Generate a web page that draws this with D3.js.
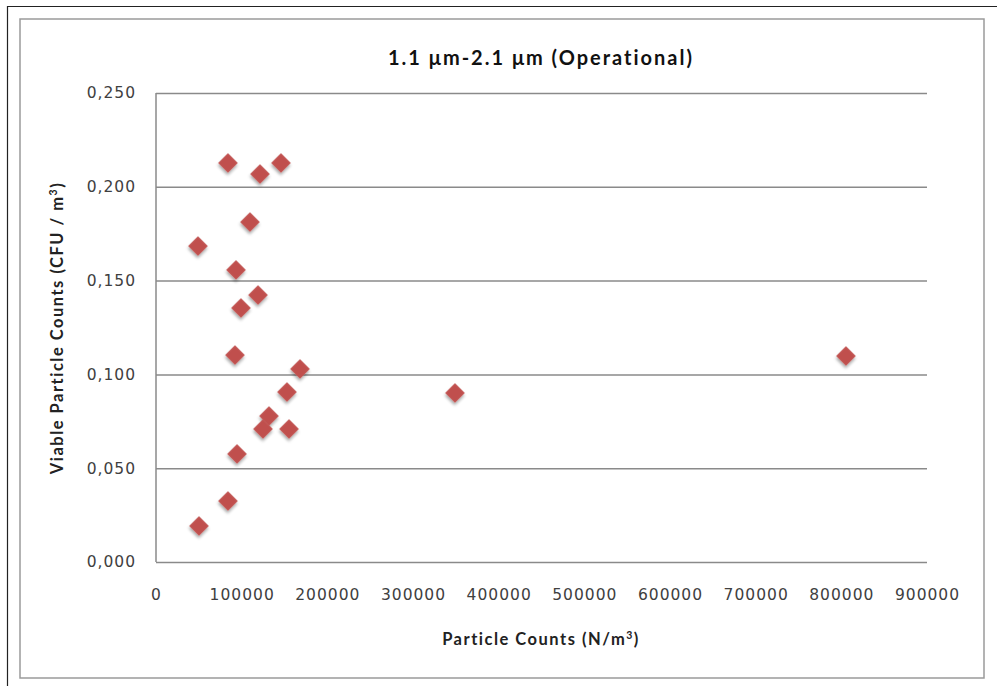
<!DOCTYPE html>
<html>
<head>
<meta charset="utf-8">
<script src="https://cdn.jsdelivr.net/npm/d3@7"></script>
<style>
  html, body { margin: 0; padding: 0; background: #fff; }
  svg { display: block; }
</style>
</head>
<body>
<svg id="chart" width="997" height="686"></svg>
<script>
// Particle counts (N/m³) and matching viable counts (CFU/m³)
const particleCounts = [84000, 121400, 145900, 109700, 49000, 93400, 119100, 99200,
  92200, 168100, 152900, 131900, 124900, 155300, 94600, 84000, 50200, 349000, 805400];
const viableCounts = [0.2127, 0.2068, 0.2127, 0.1812, 0.1684, 0.1557, 0.1423, 0.1354,
  0.1103, 0.1029, 0.0906, 0.0778, 0.0709, 0.0709, 0.0576, 0.0325, 0.0192, 0.0901, 0.1098];
const xTicks = [0, 100000, 200000, 300000, 400000, 500000, 600000, 700000, 800000, 900000];
const yTicks = [0, 0.05, 0.10, 0.15, 0.20, 0.25];
const chartTitle = "1.1 μm-2.1  μm (Operational)";

const svg = d3.select("#chart");
const plot = { left: 156, right: 927, top: 93, bottom: 562 };

const x = d3.scaleLinear().domain([0, 900000]).range([plot.left, plot.right]);
const y = d3.scaleLinear().domain([0, 0.25]).range([plot.bottom, plot.top]);

// outer frame (top and left edges)
svg.append("path")
  .attr("d", "M7.5,686 V6.5 H997")
  .attr("fill", "none").attr("stroke", "#222").attr("stroke-width", 1.2);

// chart area border
svg.append("rect")
  .attr("x", 20).attr("y", 19).attr("width", 964).attr("height", 659)
  .attr("fill", "#fff").attr("stroke", "#9a9a9a").attr("stroke-width", 1.5);

const defs = svg.append("defs");
const shadow = defs.append("filter").attr("id", "markerShadow")
  .attr("x", "-50%").attr("y", "-50%").attr("width", "200%").attr("height", "200%");
shadow.append("feDropShadow")
  .attr("dx", 1.5).attr("dy", 2).attr("stdDeviation", 1.5)
  .attr("flood-color", "#000").attr("flood-opacity", 0.35);

const tickFont = { family: "DejaVu Sans", size: 15.5, spacing: 1, color: "#404040" };

// horizontal gridlines with value labels
const yAxis = d3.axisLeft(y).tickValues(yTicks)
  .tickSize(-(plot.right - plot.left)).tickPadding(20)
  .tickFormat(d => d3.format(".3f")(d).replace(".", ","));
const gy = svg.append("g").attr("transform", `translate(${plot.left},0)`).call(yAxis);
gy.select(".domain").remove();
gy.selectAll(".tick line").attr("stroke", "#8a8a8a").attr("stroke-width", 1.5);
gy.selectAll(".tick text")
  .attr("font-family", tickFont.family).attr("font-size", tickFont.size)
  .attr("letter-spacing", tickFont.spacing).attr("fill", tickFont.color);

// vertical axis line
svg.append("line")
  .attr("x1", plot.left).attr("x2", plot.left)
  .attr("y1", plot.top).attr("y2", plot.bottom)
  .attr("stroke", "#8a8a8a").attr("stroke-width", 1.5);

// x axis labels
const xAxis = d3.axisBottom(x).tickValues(xTicks).tickSize(0).tickPadding(27)
  .tickFormat(d3.format("d"));
const gx = svg.append("g").attr("transform", `translate(0,${plot.bottom})`).call(xAxis);
gx.select(".domain").remove();
gx.selectAll(".tick text")
  .attr("font-family", tickFont.family).attr("font-size", tickFont.size)
  .attr("letter-spacing", tickFont.spacing).attr("fill", tickFont.color);

// data markers
const points = particleCounts.map((v, i) => ({ px: v, vc: viableCounts[i] }));
svg.append("g").selectAll("path").data(points).join("path")
  .attr("d", d3.symbol().type(d3.symbolSquare).size(190))
  .attr("transform", d => `translate(${x(d.px)},${y(d.vc)}) rotate(45)`)
  .attr("fill", "#c0504d")
  .attr("filter", "url(#markerShadow)");

// titles
svg.append("text")
  .attr("x", 541).attr("y", 65).attr("text-anchor", "middle")
  .attr("font-family", "Lato").attr("font-weight", "bold").attr("font-size", 20)
  .attr("letter-spacing", 2).attr("fill", "#111").text(chartTitle);

const xt = svg.append("text")
  .attr("x", 541).attr("y", 645).attr("text-anchor", "middle")
  .attr("font-family", "Lato").attr("font-weight", "bold").attr("font-size", 16.5)
  .attr("letter-spacing", 1.5).attr("fill", "#222");
xt.append("tspan").text("Particle Counts (N/m");
xt.append("tspan").attr("font-size", 10.5).attr("dy", -6).text("3");
xt.append("tspan").attr("dy", 6).text(")");

const yt = svg.append("text")
  .attr("transform", "translate(63,328) rotate(-90)").attr("text-anchor", "middle")
  .attr("font-family", "Lato").attr("font-weight", "bold").attr("font-size", 16.5)
  .attr("letter-spacing", 1.5).attr("fill", "#222");
yt.append("tspan").text("Viable Particle Counts (CFU / m");
yt.append("tspan").attr("font-size", 10.5).attr("dy", -6).text("3");
yt.append("tspan").attr("dy", 6).text(")");
</script>
</body>
</html>
